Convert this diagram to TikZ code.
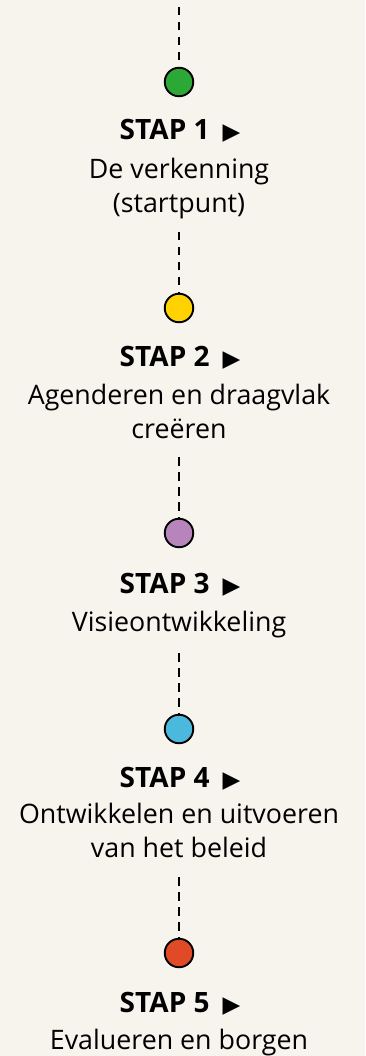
\documentclass[tikz,border=0pt]{standalone}
\usepackage{fontspec}
\setmainfont{Open Sans}
\newfontfamily\symfont{DejaVu Sans}
\definecolor{bg}{HTML}{F7F4EE}
\definecolor{cgreen}{HTML}{2CA836}
\definecolor{cyellow}{HTML}{FFD200}
\definecolor{cpurple}{HTML}{B884BC}
\definecolor{cblue}{HTML}{4BB9DD}
\definecolor{cred}{HTML}{E04A26}
\newcommand{\tri}{{\symfont\fontsize{23}{23}\selectfont ▶}}
\begin{document}
\begin{tikzpicture}[x=1pt,y=-1pt,
  dot/.style={circle,draw=black,line width=1.9pt,minimum size=28.5pt,inner sep=0pt},
  stap/.style={font=\fontsize{28}{30}\selectfont\bfseries,inner sep=0pt,anchor=base},
  desc/.style={font=\fontsize{26.8}{29}\selectfont,inner sep=0pt,anchor=base},
  conn/.style={line width=1.5pt,dash pattern=on 8.5pt off 6.5pt}]
\fill[bg] (0,0) rectangle (365,1056);
\useasboundingbox (0,0) rectangle (365,1056);
\coordinate (top) at (179,7);
% step 1
\node[dot,fill=cgreen] (c1) at (179,82) {};
\node[stap] (s1) at (180,140) {STAP 1\hspace{13pt}\tri};
\node[desc] (d1a) at (179,179) {De verkenning};
\node[desc] (d1b) at (179,213) {(startpunt)};
\coordinate (e1) at (179,232);
% step 2
\node[dot,fill=cyellow] (c2) at (179,308) {};
\node[stap] (s2) at (180,366) {STAP 2\hspace{13pt}\tri};
\node[desc] (d2a) at (179,404) {Agenderen en draagvlak};
\node[desc] (d2b) at (179,438) {creëren};
\coordinate (e2) at (179,457);
% step 3
\node[dot,fill=cpurple] (c3) at (179,533) {};
\node[stap] (s3) at (180,593) {STAP 3\hspace{13pt}\tri};
\node[desc] (d3a) at (179,631) {Visieontwikkeling};
\coordinate (e3) at (179,653);
% step 4
\node[dot,fill=cblue] (c4) at (179,729) {};
\node[stap] (s4) at (180,787) {STAP 4\hspace{13pt}\tri};
\node[desc] (d4a) at (179,823) {Ontwikkelen en uitvoeren};
\node[desc] (d4b) at (179,857) {van het beleid};
\coordinate (e4) at (179,877);
% step 5
\node[dot,fill=cred] (c5) at (179,953) {};
\node[stap] (s5) at (180,1012) {STAP 5\hspace{13pt}\tri};
\node[desc] (d5a) at (179,1049) {Evalueren en borgen};
% connectors
\draw[conn] (top) -- (c1.north);
\draw[conn] (e1) -- (c2.north);
\draw[conn] (e2) -- (c3.north);
\draw[conn] (e3) -- (c4.north);
\draw[conn] (e4) -- (c5.north);
\end{tikzpicture}
\end{document}
